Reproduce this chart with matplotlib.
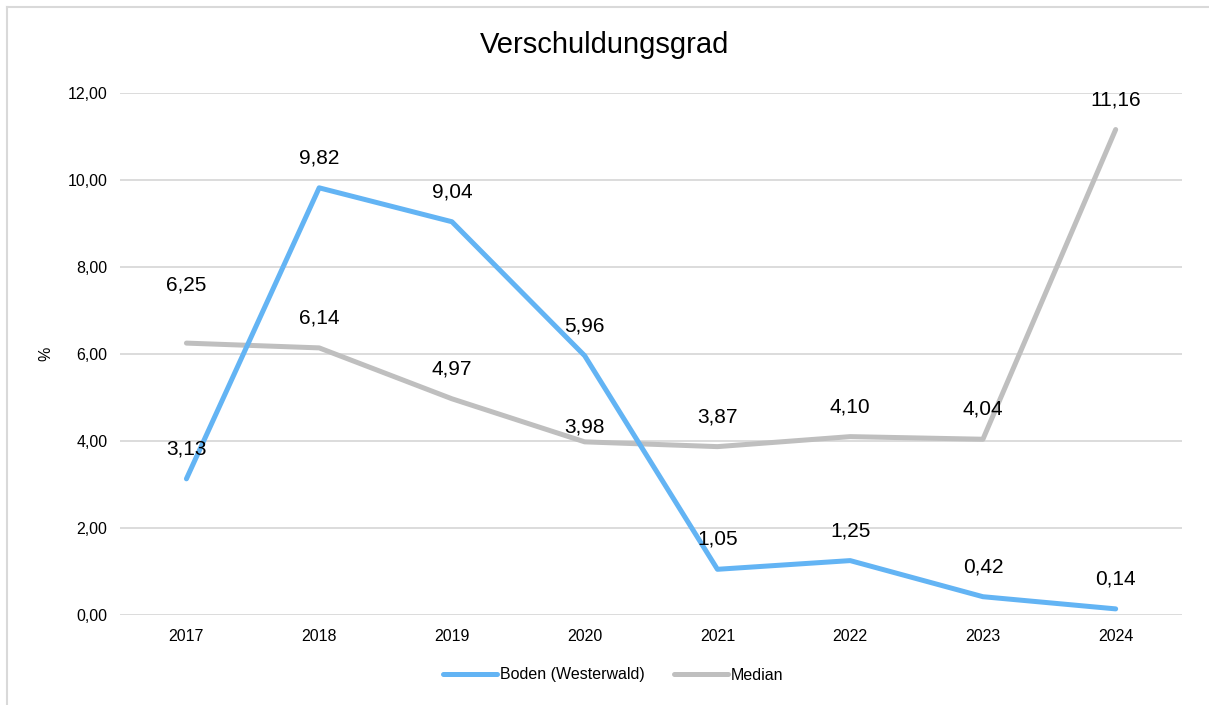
import matplotlib
matplotlib.use("Agg")
import matplotlib.pyplot as plt
from matplotlib.lines import Line2D

plt.rcParams['font.family'] = ['Liberation Sans', 'DejaVu Sans']

years = ['2017', '2018', '2019', '2020', '2021', '2022', '2023', '2024']
boden = [3.13, 9.82, 9.04, 5.96, 1.05, 1.25, 0.42, 0.14]
median = [6.25, 6.14, 4.97, 3.98, 3.87, 4.10, 4.04, 11.16]
yticks = [0, 2, 4, 6, 8, 10, 12]

blue = '#63B4F4'
grey = '#BFBFBF'


def de(v):
    return f'{v:.2f}'.replace('.', ',')


fig = plt.figure(figsize=(12.09, 7.05), dpi=100)
ax = fig.add_axes([0.0993, 0.1277, 0.8784, 0.7404])

x = range(len(years))
ax.plot(x, boden, color=blue, lw=3.6, solid_capstyle='round', solid_joinstyle='round',
        label='Boden (Westerwald)', zorder=3)
ax.plot(x, median, color=grey, lw=3.6, solid_capstyle='round', solid_joinstyle='round',
        label='Median', zorder=2)

# data labels, most sit 30 px above the point; two were moved by hand
med_off = [58, 30, 30, 15, 30, 30, 30, 30]
for i, v in enumerate(boden):
    ax.annotate(de(v), (i, v), xytext=(0, 30 * 0.72), textcoords='offset points',
                ha='center', va='center', fontsize=15, color='black')
for i, v in enumerate(median):
    ax.annotate(de(v), (i, v), xytext=(0, med_off[i] * 0.72), textcoords='offset points',
                ha='center', va='center', fontsize=15, color='black')

ax.set_xlim(-0.5, len(years) - 0.5)
ax.set_ylim(0, 12)
ax.set_yticks(yticks)
ax.set_yticklabels([de(t) for t in yticks])
ax.set_xticks(list(x))
ax.set_xticklabels(years)
ax.tick_params(length=0, labelsize=11.5, colors='black')
ax.tick_params(axis='y', pad=9)
ax.tick_params(axis='x', pad=10)
ax.grid(axis='y', color='#D9D9D9', lw=1.3)
ax.set_axisbelow(True)
for s in ax.spines.values():
    s.set_visible(False)

ax.set_ylabel('%', fontsize=11.5, labelpad=10)
fig.text(0.5, 1 - 45 / 705, 'Verschuldungsgrad', ha='center', va='center', fontsize=21)

handles = [Line2D([], [], color=blue, lw=3.6, solid_capstyle='round'),
           Line2D([], [], color=grey, lw=3.6, solid_capstyle='round')]
fig.legend(handles, ['Boden (Westerwald)', 'Median'], loc='center',
           bbox_to_anchor=(613 / 1209, 1 - 675 / 705), ncol=2, frameon=False,
           fontsize=11.5, handlelength=3.4, handletextpad=0.2, columnspacing=1.8)

# chart frame
fig.add_artist(Line2D([7 / 1209, 7 / 1209], [0, 1 - 7 / 705], transform=fig.transFigure,
                      color='#D9D9D9', lw=1.5))
fig.add_artist(Line2D([7 / 1209, 1], [1 - 7 / 705, 1 - 7 / 705], transform=fig.transFigure,
                      color='#D9D9D9', lw=1.5))

fig.savefig('out.png', dpi=100)
